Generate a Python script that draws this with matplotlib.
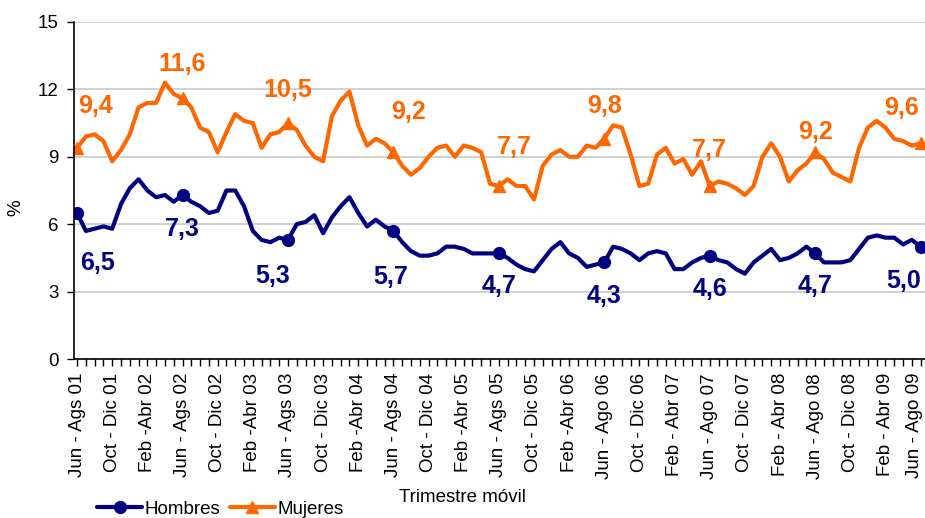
import numpy as np
import matplotlib
matplotlib.use("Agg")
import matplotlib.pyplot as plt
from matplotlib.transforms import ScaledTranslation

plt.rcParams['font.family'] = ['Liberation Sans', 'DejaVu Sans']

# Tasa de desocupacion por sexo, trimestres moviles jun-ago 2001 a jun-ago 2009
hombres = [
    6.5, 5.7, 5.8, 5.9, 5.8, 6.9, 7.6, 8.0, 7.5, 7.2,
    7.3, 7.0, 7.3, 7.0, 6.8, 6.5, 6.6, 7.5, 7.5, 6.8,
    5.7, 5.3, 5.2, 5.4, 5.3, 6.0, 6.1, 6.4, 5.6, 6.3,
    6.8, 7.2, 6.5, 5.9, 6.2, 5.9, 5.7, 5.2, 4.8, 4.6,
    4.6, 4.7, 5.0, 5.0, 4.9, 4.7, 4.7, 4.7, 4.7, 4.5,
    4.2, 4.0, 3.9, 4.4, 4.9, 5.2, 4.7, 4.5, 4.1, 4.2,
    4.3, 5.0, 4.9, 4.7, 4.4, 4.7, 4.8, 4.7, 4.0, 4.0,
    4.3, 4.5, 4.6, 4.4, 4.3, 4.0, 3.8, 4.3, 4.6, 4.9,
    4.4, 4.5, 4.7, 5.0, 4.7, 4.3, 4.3, 4.3, 4.4, 4.9,
    5.4, 5.5, 5.4, 5.4, 5.1, 5.3, 5.0,
]
mujeres = [
    9.4, 9.9, 10.0, 9.7, 8.8, 9.3, 10.0, 11.2, 11.4, 11.4,
    12.3, 11.8, 11.6, 11.2, 10.3, 10.1, 9.2, 10.1, 10.9, 10.6,
    10.5, 9.4, 10.0, 10.1, 10.5, 10.2, 9.5, 9.0, 8.8, 10.8,
    11.5, 11.9, 10.4, 9.5, 9.8, 9.6, 9.2, 8.6, 8.2, 8.5,
    9.0, 9.4, 9.5, 9.0, 9.5, 9.4, 9.2, 7.8, 7.7, 8.0,
    7.7, 7.7, 7.1, 8.6, 9.1, 9.3, 9.0, 9.0, 9.5, 9.4,
    9.8, 10.4, 10.3, 9.1, 7.7, 7.8, 9.1, 9.4, 8.7, 8.9,
    8.2, 8.8, 7.7, 7.9, 7.8, 7.6, 7.3, 7.7, 9.0, 9.6,
    9.0, 7.9, 8.4, 8.7, 9.2, 8.9, 8.3, 8.1, 7.9, 9.4,
    10.3, 10.6, 10.3, 9.8, 9.7, 9.5, 9.6,
]
tick_labels = [
    "Jun - Ags 01", "Oct - Dic 01", "Feb -Abr 02", "Jun - Ags 02", "Oct - Dic 02",
    "Feb -Abr 03", "Jun - Ags 03", "Oct - Dic 03", "Feb -Abr 04", "Jun - Ags 04",
    "Oct - Dic 04", "Feb -Abr 05", "Jun - Ags 05", "Oct - Dic 05", "Feb -Abr 06",
    "Jun - Ago 06", "Oct - Dic 06", "Feb - Abr 07", "Jun - Ago 07", "Oct - Dic 07",
    "Feb - Abr 08", "Jun - Ago 08", "Oct - Dic 08", "Feb - Abr 09", "Jun - Ago 09",
]

# desplazamiento (pixeles) de las etiquetas de datos respecto al marcador
off_muj = [(18, 42), (0, 34), (0, 33), (15, 40), (16, 39), (0, 33), (0, 36), (0, 20), (-19, 35)]
off_hom = [(20, -50), (0, -34), (-15, -36), (-3, -46), (0, -33), (0, -34), (0, -33), (0, -33), (-17, -34)]

C_HOM = '#000080'
C_MUJ = '#FF6600'

x = np.arange(len(hombres))

fig = plt.figure(figsize=(9.25, 5.18), dpi=100)
ax = fig.add_axes([74 / 925, 1 - 359 / 518, 851 / 925, 337 / 518])

ax.plot(x, hombres, color=C_HOM, lw=3, marker='o', markersize=8.5, markevery=12,
        solid_joinstyle='round', solid_capstyle='round', label='Hombres')
ax.plot(x, mujeres, color=C_MUJ, lw=3, marker='^', markersize=9, markevery=12,
        solid_joinstyle='round', solid_capstyle='round', label='Mujeres')

for k, i in enumerate(range(0, len(x), 12)):
    ax.annotate("{:.1f}".format(mujeres[i]).replace('.', ','), (x[i], mujeres[i]),
                xytext=off_muj[k], textcoords='offset pixels', ha='center', va='center',
                color=C_MUJ, fontsize=18, fontweight='bold', annotation_clip=False)
    ax.annotate("{:.1f}".format(hombres[i]).replace('.', ','), (x[i], hombres[i]),
                xytext=off_hom[k], textcoords='offset pixels', ha='center', va='center',
                color=C_HOM, fontsize=18, fontweight='bold', annotation_clip=False)

ax.set_xlim(-0.35, 96.5)
ax.set_ylim(0, 15)
ax.set_yticks(range(0, 16, 3))
ax.yaxis.grid(True, color='#c8c8c8', lw=1.2)
ax.set_axisbelow(True)

labels = [''] * len(x)
for j, lab in enumerate(tick_labels):
    labels[j * 4] = lab
ax.set_xticks(x)
ax.set_xticklabels(labels, rotation=90, fontsize=13.5)
ax.tick_params(axis='x', length=5, width=1, pad=5)
ax.tick_params(axis='y', length=5, width=1, pad=6, labelsize=13.5)

# la ultima etiqueta queda pegada al borde: correrla un poco a la izquierda
last = ax.get_xticklabels()[-1]
last.set_transform(last.get_transform() + ScaledTranslation(-6 / 100, 0, fig.dpi_scale_trans))

ax.spines['top'].set_visible(False)
ax.spines['right'].set_color('#c8c8c8')
ax.spines['left'].set_linewidth(1.2)
ax.spines['bottom'].set_linewidth(1.2)

fig.text(16 / 925, 1 - 208 / 518, '%', rotation=90, ha='center', va='center', fontsize=13.5)
fig.text(462 / 925, 1 - 497 / 518, 'Trimestre móvil', ha='center', va='center', fontsize=13.5)

fig.legend(loc='center left', bbox_to_anchor=(97 / 925, 1 - 509 / 518), ncol=2, frameon=False,
           fontsize=13.5, handlelength=2.4, handletextpad=0.15, columnspacing=0.5,
           borderpad=0, borderaxespad=0)

fig.savefig('out.png', dpi=100)
